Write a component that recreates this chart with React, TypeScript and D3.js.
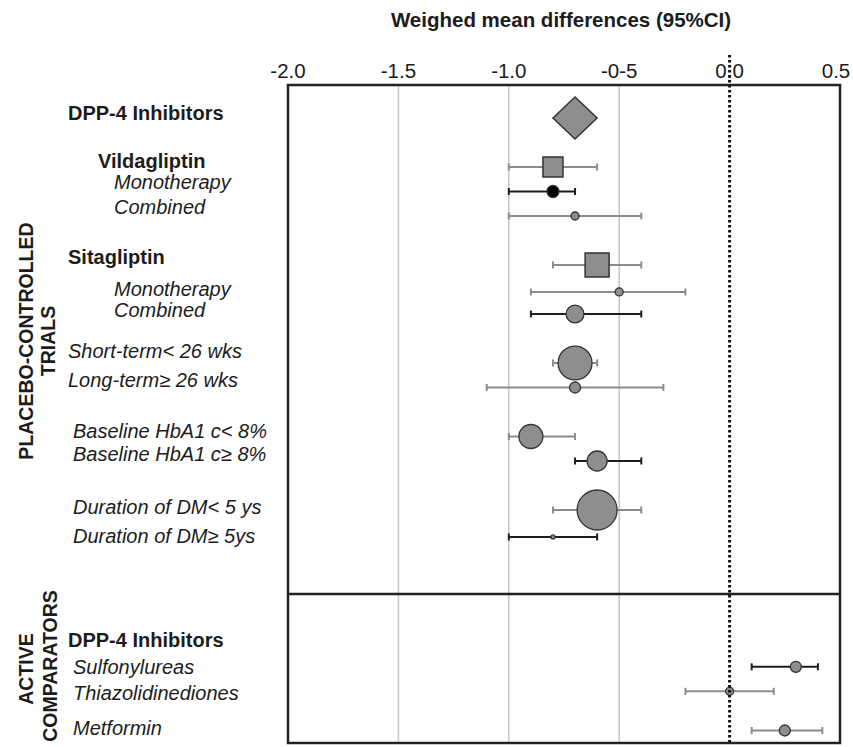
import React from "react";
import * as d3 from "d3";

// ---------- data ----------
const title = "Weighed mean differences (95%CI)";
const xTicks = [-2.0, -1.5, -1.0, -0.5, 0.0, 0.5];
const xTickLabels = ["-2.0", "-1.5", "-1.0", "-0-5", "0.0", "0.5"];
const gridValues = [-1.5, -1.0, -0.5];

const labelTexts = [
  "DPP-4 Inhibitors",
  "Vildagliptin",
  "Monotherapy",
  "Combined",
  "Sitagliptin",
  "Monotherapy",
  "Combined",
  "Short-term< 26 wks",
  "Long-term\u2265 26 wks",
  "Baseline HbA1 c< 8%",
  "Baseline HbA1 c\u2265 8%",
  "Duration of DM< 5 ys",
  "Duration of DM\u2265 5ys",
  "DPP-4 Inhibitors",
  "Sulfonylureas",
  "Thiazolidinediones",
  "Metformin",
];
const labelRows = [-0.2, 1.76, 2.61, 3.63, 5.67, 6.98, 7.84, 9.51, 10.69, 12.78, 13.71, 15.88, 17.06, 21.31, 22.41, 23.47, 24.9];
const labelStyles = ["bold", "bold", "italic", "italic", "bold", "italic", "italic", "italic", "italic", "italic", "italic", "italic", "italic", "bold", "italic", "italic", "italic"];
const labelLevels = [0, 2, 3, 3, 0, 3, 3, 0, 0, 1, 1, 1, 1, 0, 1, 1, 1];

const markerRows = [0, 2, 3, 4, 6, 7.1, 8, 10, 11, 13, 14, 16, 17.1, 22.4, 23.4, 25];
const estimates = [-0.7, -0.8, -0.8, -0.7, -0.6, -0.5, -0.7, -0.7, -0.7, -0.9, -0.6, -0.6, -0.8, 0.3, 0.0, 0.25];
const lowerCI = [-0.8, -1.0, -1.0, -1.0, -0.8, -0.9, -0.9, -0.8, -1.1, -1.0, -0.7, -0.8, -1.0, 0.1, -0.2, 0.1];
const upperCI = [-0.6, -0.6, -0.7, -0.4, -0.4, -0.2, -0.4, -0.6, -0.3, -0.7, -0.4, -0.4, -0.6, 0.4, 0.2, 0.42];
const weights = [44, 25, 9, 4, 36, 4, 20, 72, 7.6, 36, 25, 100, 1, 7.6, 4, 7.6];
const shapes = ["diamond", "square", "circle", "circle", "square", "circle", "circle", "circle", "circle", "circle", "circle", "circle", "circle", "circle", "circle", "circle"];
const lineTones = ["none", "gray", "black", "gray", "gray", "gray", "black", "gray", "gray", "gray", "black", "gray", "black", "black", "gray", "gray"];
const markerTones = ["gray", "gray", "black", "gray", "gray", "gray", "gray", "gray", "gray", "gray", "gray", "gray", "gray", "gray", "gray", "gray"];

// ---------- layout ----------
const W = 853;
const H = 747;
const boxLeft = 288;
const boxRight = 840;
const boxTop = 85;
const divider = 594;
const boxBottom = 743;
const FONT = "'Liberation Sans', Arial, Helvetica, sans-serif";
const levelX = [68, 73, 98, 114];

const GRAY_LINE = "#8c8c8c";
const DARK = "#1e1e1e";
const FILL = "#8e8e8e";
const TEXT = "#1c1c1c";

export default function App() {
  const x = d3.scaleLinear().domain([-2, 0.5]).range([boxLeft, boxRight]);
  const y = d3.scaleLinear().domain([0, 25]).range([118, 730.5]);
  const r = d3.scaleSqrt().domain([0, 100]).range([0, 20]);

  const diamondPath = (i: number) => {
    const cy = y(markerRows[i]);
    const h = 21;
    const p = d3.path();
    p.moveTo(x(lowerCI[i]), cy);
    p.lineTo(x(estimates[i]), cy - h);
    p.lineTo(x(upperCI[i]), cy);
    p.lineTo(x(estimates[i]), cy + h);
    p.closePath();
    return p.toString();
  };

  return (
    <svg
      width={W}
      height={H}
      viewBox={`0 0 ${W} ${H}`}
      style={{ position: "absolute", left: 0, top: 0, background: "#fff", display: "block" }}
      fontFamily={FONT}
    >
      <rect x={0} y={0} width={W} height={H} fill="#fff" />

      {/* title */}
      <text x={561} y={27} textAnchor="middle" fontWeight="bold" fontSize={20.5} fill={TEXT}>
        {title}
      </text>

      {/* tick labels */}
      {xTicks.map((t, i) => (
        <text key={i} x={Math.min(x(t), W - 17)} y={78} textAnchor="middle" fontSize={20.5} fill={TEXT}>
          {xTickLabels[i]}
        </text>
      ))}

      {/* gridlines */}
      {gridValues.map((g, i) => (
        <line key={i} x1={x(g)} x2={x(g)} y1={boxTop} y2={boxBottom} stroke="#c9c9c9" strokeWidth={1.6} />
      ))}

      {/* CI lines */}
      {estimates.map((e, i) => {
        if (lineTones[i] === "none") return null;
        const cy = y(markerRows[i]);
        const c = lineTones[i] === "black" ? DARK : GRAY_LINE;
        return (
          <g key={i}>
            <line x1={x(lowerCI[i])} x2={x(upperCI[i])} y1={cy} y2={cy} stroke={c} strokeWidth={2} />
            <line x1={x(lowerCI[i])} x2={x(lowerCI[i])} y1={cy - 3.5} y2={cy + 3.5} stroke={c} strokeWidth={2} />
            <line x1={x(upperCI[i])} x2={x(upperCI[i])} y1={cy - 3.5} y2={cy + 3.5} stroke={c} strokeWidth={2} />
          </g>
        );
      })}

      {/* markers */}
      {estimates.map((e, i) => {
        const cy = y(markerRows[i]);
        const cx = x(e);
        const fill = markerTones[i] === "black" ? "#000" : FILL;
        if (shapes[i] === "diamond") {
          return <path key={i} d={diamondPath(i)} fill={FILL} stroke="#333" strokeWidth={1.5} />;
        }
        if (shapes[i] === "square") {
          const s = r(weights[i]);
          return (
            <rect key={i} x={cx - s} y={cy - s} width={2 * s} height={2 * s} fill={fill} stroke="#333" strokeWidth={1.5} />
          );
        }
        return <circle key={i} cx={cx} cy={cy} r={r(weights[i])} fill={fill} stroke="#333" strokeWidth={1.3} />;
      })}

      {/* zero reference line */}
      <line x1={x(0)} x2={x(0)} y1={55} y2={boxBottom} stroke="#111" strokeWidth={3} strokeDasharray="2.5 2.5" />

      {/* boxes */}
      <rect x={boxLeft} y={boxTop} width={boxRight - boxLeft} height={boxBottom - boxTop} fill="none" stroke="#222" strokeWidth={2.5} />
      <line x1={boxLeft} x2={boxRight} y1={divider} y2={divider} stroke="#222" strokeWidth={2.5} />

      {/* row labels */}
      {labelTexts.map((t, i) => (
        <text
          key={i}
          x={levelX[labelLevels[i]]}
          y={y(labelRows[i]) + 7}
          fontSize={20}
          fontWeight={labelStyles[i] === "bold" ? "bold" : "normal"}
          fontStyle={labelStyles[i] === "italic" ? "italic" : "normal"}
          fill={TEXT}
        >
          {t}
        </text>
      ))}

      {/* section labels */}
      <text transform="translate(33,341) rotate(-90)" textAnchor="middle" fontWeight="bold" fontSize={19.5} fill={TEXT}>
        PLACEBO-CONTROLLED
      </text>
      <text transform="translate(55,341) rotate(-90)" textAnchor="middle" fontWeight="bold" fontSize={19.5} fill={TEXT}>
        TRIALS
      </text>
      <text transform="translate(33,669) rotate(-90)" textAnchor="middle" fontWeight="bold" fontSize={19.5} fill={TEXT}>
        ACTIVE
      </text>
      <text transform="translate(57,666) rotate(-90)" textAnchor="middle" fontWeight="bold" fontSize={19.5} fill={TEXT}>
        COMPARATORS
      </text>
    </svg>
  );
}
